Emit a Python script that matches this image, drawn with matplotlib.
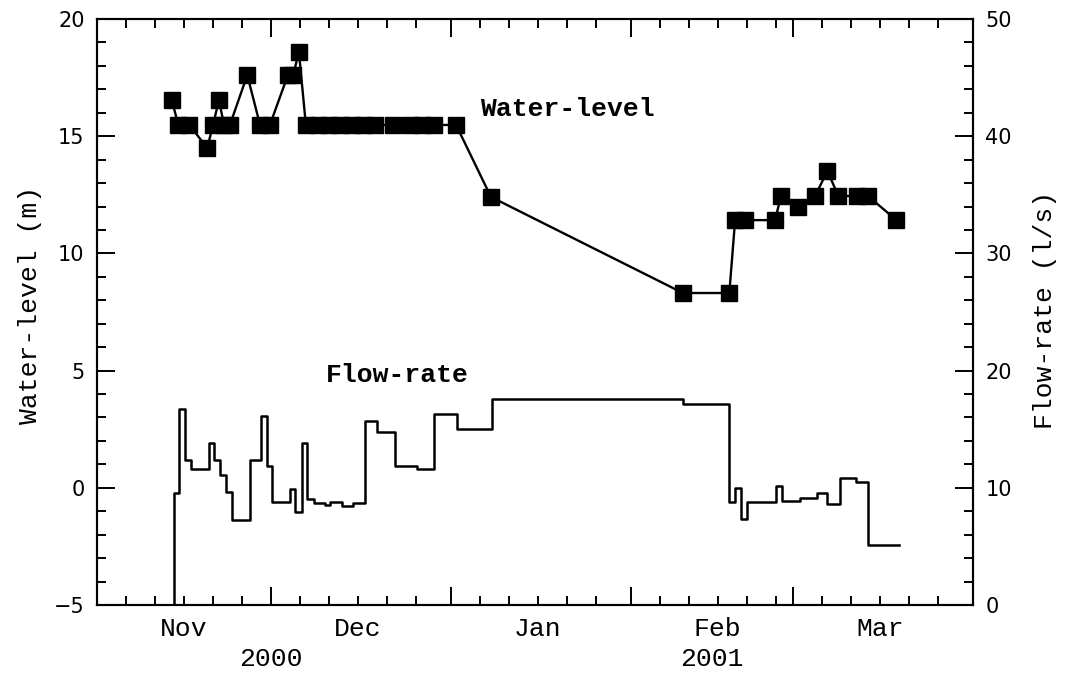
from datetime import datetime

import matplotlib
matplotlib.use('Agg')
import matplotlib.dates as mdates
import matplotlib.pyplot as plt
from matplotlib.ticker import MultipleLocator, FuncFormatter
import numpy as np


# Days since 2000-11-01 of each water-level reading, and the level (m)
level_days = [12.9, 14.0, 15.9, 19.0, 20.0, 21.0, 21.9, 22.9, 25.9, 28.1,
              29.8, 32.9, 33.8, 34.8, 36.0, 38.1, 40.0, 41.9, 44.0, 45.9,
              47.9, 51.0, 54.0, 56.0, 58.1, 61.9, 67.9, 101.0, 109.0, 110.0,
              111.7, 116.9, 117.9, 120.9, 123.8, 125.9, 127.8, 131.0, 132.9,
              137.8]
level_m = [16.54, 15.48, 15.48, 14.50, 15.48, 16.54, 15.48, 15.48, 17.61, 15.48,
           15.48, 17.61, 17.61, 18.59, 15.48, 15.48, 15.48, 15.48, 15.48, 15.48,
           15.48, 15.48, 15.48, 15.48, 15.48, 15.48, 12.41, 8.31, 8.31, 11.42,
           11.42, 11.42, 12.45, 11.98, 12.45, 13.52, 12.45, 12.45, 12.45,
           11.42]

# Flow-rate steps: day the value starts, value (l/s); last entry ends the line
flow_days = [13.2, 13.3, 14.2, 15.2, 16.2, 19.3, 20.2, 21.2, 22.2, 23.2,
             26.4, 28.3, 29.3, 30.2, 33.3, 34.1, 35.3, 36.2, 37.4, 39.3,
             40.2, 42.2, 44.1, 46.2, 48.2, 51.3, 55.1, 58.1, 62.0, 68.1,
             101.0, 109.0, 110.0, 111.0, 112.1, 117.1, 118.1, 121.1, 124.1,
             125.9, 128.1, 130.9, 132.9, 138.2]
flow_ls = [0.0, 9.58, 16.70, 12.37, 11.60, 13.80, 12.37, 11.09, 9.62, 7.25,
           12.37, 16.15, 11.89, 8.81, 9.87, 7.91, 13.80, 9.02, 8.73, 8.53,
           8.81, 8.45, 8.68, 15.73, 14.74, 11.86, 11.63, 16.30, 14.99, 17.58,
           17.15, 8.81, 10.01, 7.31, 8.81, 10.15, 8.90, 9.16, 9.58, 8.62,
           10.81, 10.52, 5.12, 5.12]

start = datetime(2000, 11, 1)
end = datetime(2001, 4, 1)
year_labels = ['2000', '2001']
year_label_dates = [datetime(2000, 12, 1), datetime(2001, 2, 15)]

mono = 'Liberation Mono'


def plot_levels():

    # Make figure objects
    figure: plt.Figure = plt.figure(figsize=(10.7, 6.77), dpi=100)
    ax: plt.Axes = figure.add_axes([0.0907, 0.1064, 0.8186, 0.8655])
    ax2: plt.Axes = ax.twinx()

    base = mdates.date2num(start)
    lx = base + np.array(level_days)
    fx = base + np.array(flow_days)

    # Water-level
    ax.plot(lx, level_m, color='black', lw=1.7, marker='s',
            markersize=12, markerfacecolor='black', markeredgecolor='black')

    # Flow-rate
    ax2.step(fx, flow_ls, where='post', color='black', lw=1.8)

    # Limits
    ax.set_xlim(mdates.date2num(start), mdates.date2num(end))
    ax.set_ylim(-5, 20)
    ax2.set_ylim(0, 50)

    # Ticks
    ax.xaxis.set_major_locator(mdates.MonthLocator())
    ax.xaxis.set_major_formatter(FuncFormatter(lambda v, p: ''))
    ax.xaxis.set_minor_locator(mdates.DayLocator(bymonthday=[6, 11, 16, 21, 26]))

    def month_name(v, p):
        d = mdates.num2date(v)
        return d.strftime('%b') if d.day == 16 else ''

    ax.xaxis.set_minor_formatter(FuncFormatter(month_name))
    ax.yaxis.set_major_locator(MultipleLocator(5))
    ax.yaxis.set_minor_locator(MultipleLocator(1))
    ax2.yaxis.set_major_locator(MultipleLocator(10))
    ax2.yaxis.set_minor_locator(MultipleLocator(2))

    ax.tick_params(which='both', direction='in', top=True, width=1.4)
    ax.tick_params(which='major', length=13)
    ax.tick_params(which='minor', length=6.5)
    ax.tick_params(axis='y', which='major', labelsize=15, pad=9)
    ax.tick_params(axis='x', which='minor', labelsize=19, pad=9)
    ax2.tick_params(which='both', direction='in', width=1.4)
    ax2.tick_params(which='major', length=13, labelsize=15, pad=9)
    ax2.tick_params(which='minor', length=6.5)
    for lab in ax.xaxis.get_minorticklabels():
        lab.set_family(mono)

    for a in (ax, ax2):
        for s in a.spines.values():
            s.set_linewidth(1.5)

    # Labels
    figure.text(30 / 1070, 1 - 305 / 677, 'Water-level (m)', rotation=90,
                ha='center', va='center', fontsize=19, family=mono)
    figure.text(1045 / 1070, 1 - 310 / 677, 'Flow-rate (l/s)', rotation=90,
                ha='center', va='center', fontsize=19, family=mono)
    ax.text(base + 66, 16.15, 'Water-level', ha='left', va='center',
            fontsize=19, family=mono, fontweight='bold')
    ax.text(base + 39.5, 4.8, 'Flow-rate', ha='left', va='center',
            fontsize=19, family=mono, fontweight='bold')
    for lab, d in zip(year_labels, year_label_dates):
        ax.text(mdates.date2num(d), -0.092, lab, transform=ax.get_xaxis_transform(),
                ha='center', va='center', fontsize=19, family=mono)

    # Save
    figure.savefig('out.png', dpi=100)


if __name__ == '__main__':
    plot_levels()
